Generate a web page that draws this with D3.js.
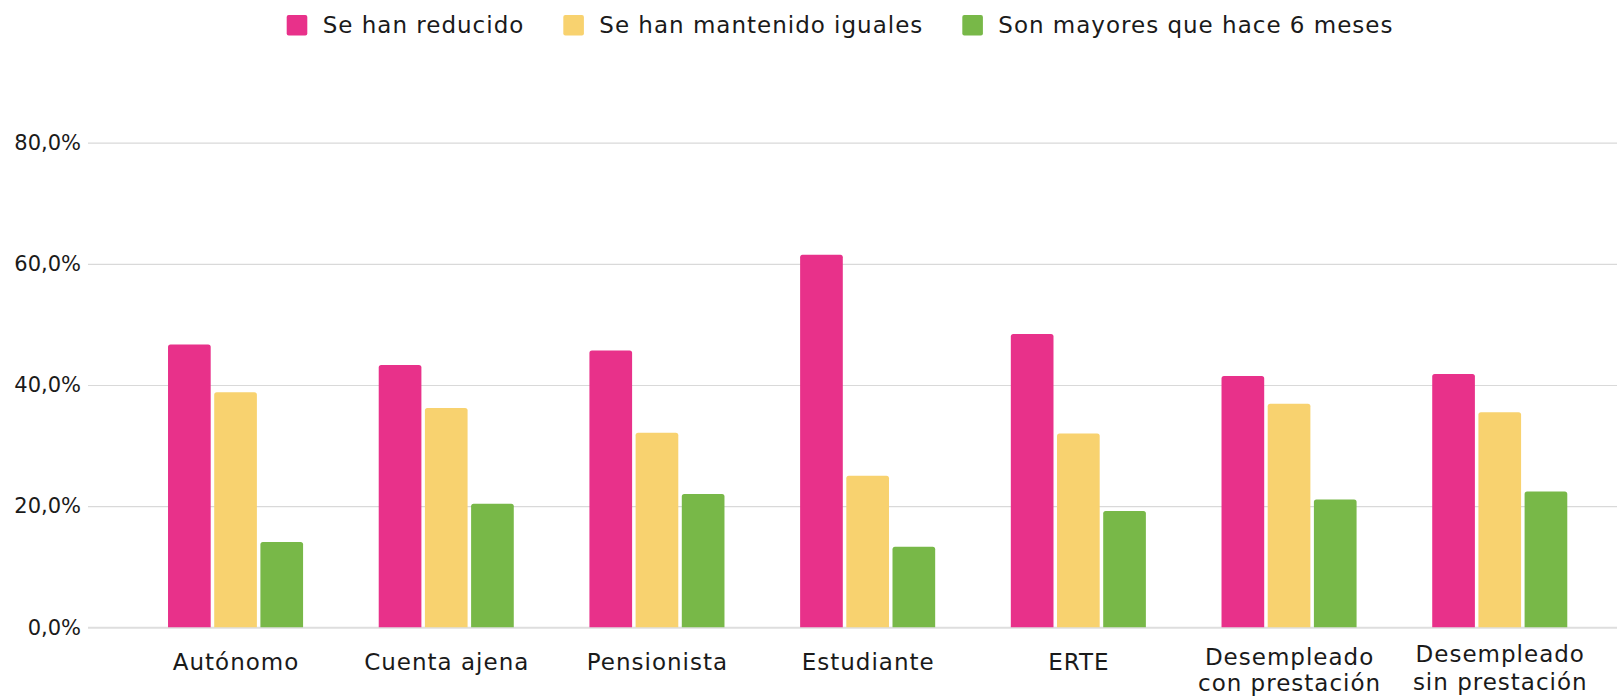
<!DOCTYPE html>
<html><head><meta charset="utf-8">
<script src="https://cdn.jsdelivr.net/npm/d3@7"></script>
<style>
body{margin:0;background:#fff;}
svg{display:block;font-family:"DejaVu Sans",sans-serif;}
</style></head>
<body><svg id="c" width="1617" height="696"></svg>
<script>
const categories = [["Autónomo"],["Cuenta ajena"],["Pensionista"],["Estudiante"],["ERTE"],["Desempleado","con prestación"],["Desempleado","sin prestación"]];
const seriesNames = ["Se han reducido","Se han mantenido iguales","Son mayores que hace 6 meses"];
const reducido  = [46.7, 43.3, 45.7, 61.5, 48.4, 41.5, 41.8];
const iguales   = [38.8, 36.2, 32.1, 25.0, 32.0, 36.9, 35.5];
const mayores   = [14.1, 20.4, 22.0, 13.3, 19.2, 21.1, 22.4];
const yTicks = [0, 20, 40, 60, 80];
const colors = ["#E8318A", "#F8D26F", "#78B848"];

const series = [reducido, iguales, mayores];
const svg = d3.select("#c");
const W = 1617, H = 696;
const FONT = "'DejaVu Sans',sans-serif";
const y = d3.scaleLinear().domain([0, 80]).range([627.3, 142.7]);
const x0 = d3.scaleBand().domain(d3.range(categories.length)).range([130.2, 1605.1]).paddingInner(0.359).paddingOuter(0.1795);
const x1 = d3.scaleBand().domain(d3.range(series.length)).range([0, x0.bandwidth()]).paddingInner(0.076);
const loc = d3.formatLocale({decimal: ",", thousands: ".", grouping: [3], currency: ["", "€"]});
const fmt = v => loc.format(".1f")(v) + "%";

// y axis with grid
const yAxis = d3.axisLeft(y).tickValues(yTicks).tickFormat(fmt).tickSize(-(W - 88)).tickPadding(7);
const gy = svg.append("g").attr("transform", "translate(88,0)").call(yAxis);
gy.attr("font-family", FONT);
gy.select(".domain").remove();
gy.selectAll(".tick line").attr("stroke", "#d9d9d9").attr("stroke-width", 1.2);
gy.selectAll(".tick text").attr("fill", "#1a1a1a").style("font-size", "21px");
gy.selectAll(".tick").filter(d => d === 0).select("line").attr("stroke-width", 2).attr("stroke", "#dedede");

// bars
function barPath(x, yTop, w, h, r) {
  r = Math.min(r, h, w / 2);
  return `M${x},${yTop + h}V${yTop + r}Q${x},${yTop} ${x + r},${yTop}H${x + w - r}Q${x + w},${yTop} ${x + w},${yTop + r}V${yTop + h}Z`;
}
const groups = svg.append("g").selectAll("g").data(categories).join("g")
  .attr("transform", (d, i) => `translate(${x0(i)},0)`);
groups.selectAll("path").data((d, i) => series.map((s, j) => ({j, v: s[i]}))).join("path")
  .attr("fill", d => colors[d.j])
  .attr("d", d => barPath(x1(d.j), y(d.v), x1.bandwidth(), y(0) - y(d.v), 2.5));

// x axis labels
const xAxis = d3.axisBottom(x0).tickSize(0).tickFormat("");
const gx = svg.append("g").attr("transform", `translate(0,${y(0)})`).call(xAxis);
gx.attr("font-family", FONT);
gx.select(".domain").remove();
gx.selectAll(".tick").each(function(d) {
  const lines = categories[d];
  const t = d3.select(this).append("text").attr("fill", "#1a1a1a").attr("text-anchor", "middle")
    .style("font-size", "23px").style("letter-spacing", "1px");
  const startY = lines.length === 1 ? 34.4 : (d === 5 ? 29.5 : 26.7);
  const lh = d === 5 ? 26.5 : 27.5;
  lines.forEach((l, k) => t.append("tspan").attr("x", 0.5).attr("y", startY + k * lh).attr("dy", "0.35em").text(l));
});

// legend
const legend = svg.append("g").attr("transform", "translate(286.7,0)").attr("font-family", FONT);
let lx = 0;
seriesNames.forEach((n, i) => {
  const g = legend.append("g").attr("transform", `translate(${lx},0)`);
  g.append("rect").attr("x", 0).attr("y", 15).attr("width", 20.6).attr("height", 20.6).attr("rx", 2).attr("fill", colors[i]);
  const t = g.append("text").attr("x", 36).attr("y", 25.3).attr("dy", "0.35em").attr("fill", "#1a1a1a")
    .style("font-size", "23px").style("letter-spacing", "1px").text(n);
  const w = t.node().getComputedTextLength();
  lx += 36 + w + 39;
});
</script></body></html>
